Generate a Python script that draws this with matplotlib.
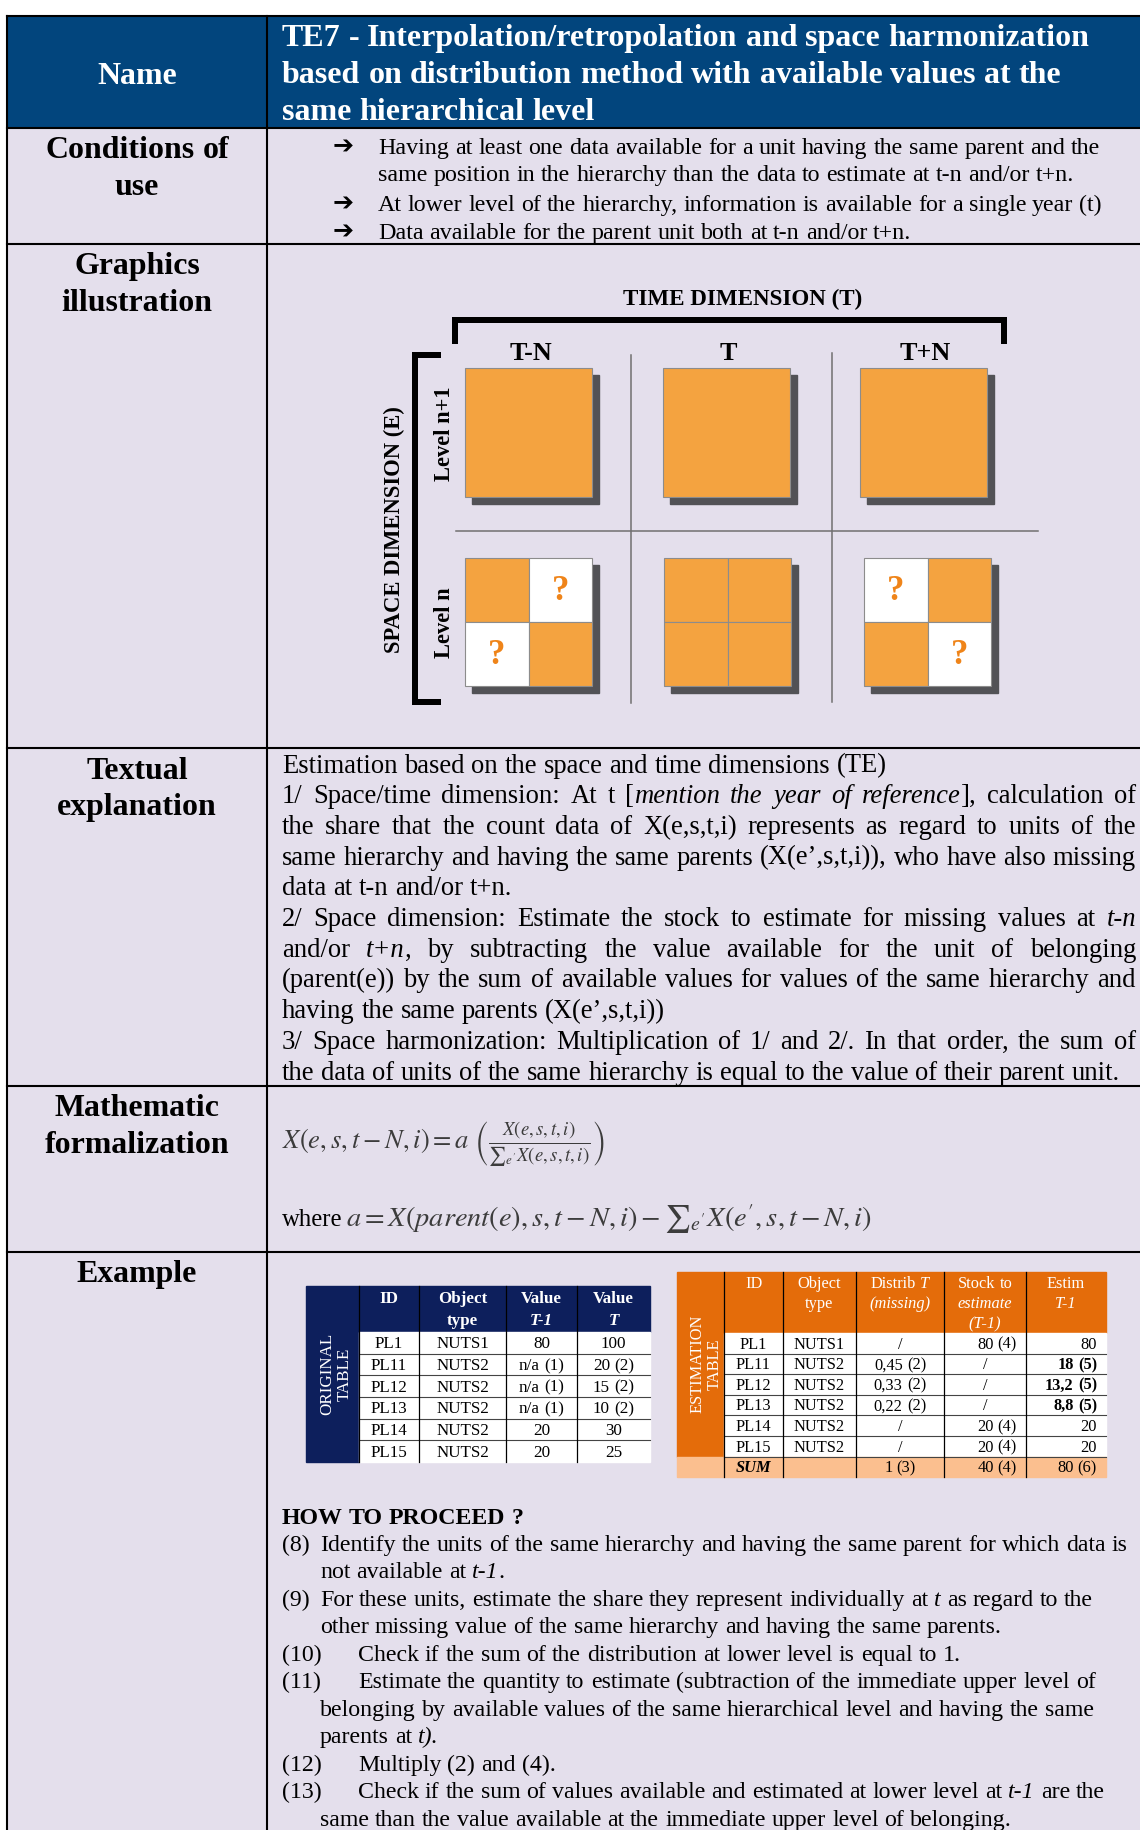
import matplotlib
matplotlib.use('Agg')
import matplotlib.pyplot as plt
from matplotlib.patches import Rectangle

SERIF = 'Liberation Serif'
plt.rcParams['mathtext.fontset'] = 'stix'

NAVY = '#02457d'
LAVENDER = '#e4dfec'
ORANGE_SQ = '#f4a340'
SHADOW = '#525256'
QMARK = '#ef8419'
TAB_NAVY = '#0d1f5c'
TAB_ORANGE = '#e46c0a'
SUM_ORANGE = '#fbbf8f'
MATH_GREY = '#3c3c3c'

# ---------------- content ----------------
row_labels = ['Name', 'Conditions of\nuse', 'Graphics\nillustration',
              'Textual\nexplanation', 'Mathematic\nformalization', 'Example']
title_lines = ['TE7 - Interpolation/retropolation and space harmonization',
               'based on distribution method with available values at the',
               'same hierarchical level']
conditions = [
    ['Having at least one data available for a unit having the same parent and the',
     'same position in the hierarchy than the data to estimate at t-n and/or t+n.'],
    ['At lower level of the hierarchy, information is available for a single year (t)'],
    ['Data available for the parent unit both at t-n and/or t+n.'],
]
# (text, justified)
textual = [
    ('Estimation based on the space and time dimensions (TE)', False),
    ('1/ Space/time dimension: At t [_mention the year of reference_], calculation of', True),
    ('the share that the count data of X(e,s,t,i) represents as regard to units of the', True),
    ('same hierarchy and having the same parents (X(e\u2019,s,t,i)), who have also missing', True),
    ('data at t-n and/or t+n.', False),
    ('2/ Space dimension: Estimate the stock to estimate for missing values at _t-n_', True),
    ('and/or _t+n_, by subtracting the value available for the unit of belonging', True),
    ('(parent(e)) by the sum of available values for values of the same hierarchy and', True),
    ('having the same parents (X(e\u2019,s,t,i))', False),
    ('3/ Space harmonization: Multiplication of 1/ and 2/. In that order, the sum of', True),
    ('the data of units of the same hierarchy is equal to the value of their parent unit.', False),
]
formula_1 = r'$X(e,s,t-N,i)=a\ \left(\frac{X(e,s,t,i)}{{\sum}_{e^{\prime}}X(e,s,t,i)}\right)$'
formula_2 = r'$a=X(parent(e),s,t-N,i)-{\sum}_{e^{\prime}}X(e^{\prime},s,t-N,i)$'

time_labels = ['T-N', 'T', 'T+N']
level_labels = ['Level n+1', 'Level n']
# unknown quadrants (row, col) of the lower level squares, per time column
missing_cells = [[(0, 1), (1, 0)], [], [(0, 0), (1, 1)]]

orig_header = [['ID'], ['Object', 'type'], ['Value', '_T-1_'], ['Value', '_T_']]
orig_id = ['PL1', 'PL11', 'PL12', 'PL13', 'PL14', 'PL15']
orig_type = ['NUTS1', 'NUTS2', 'NUTS2', 'NUTS2', 'NUTS2', 'NUTS2']
orig_val_t1 = ['80', 'n/a (1)', 'n/a (1)', 'n/a (1)', '20', '20']
orig_val_t = ['100', '20 (2)', '15 (2)', '10 (2)', '30', '25']

est_header = [['ID'], ['Object', 'type'], ['Distrib _T_', '_(missing)_'],
              ['Stock to', '_estimate_', '_(T-1)_'], ['Estim', '_T-1_']]
est_id = orig_id
est_type = orig_type
est_distrib = ['/', '0,45 (2)', '0,33 (2)', '0,22 (2)', '/', '/']
est_stock = ['80 (4)', '/', '/', '/', '20 (4)', '20 (4)']
est_estim = ['80', '*18 (5)*', '*13,2 (5)*', '*8,8 (5)*', '20', '20']
est_sum = ['_*SUM*_', '', '1 (3)', '40 (4)', '80 (6)']

steps = [
    ('(8)', ['Identify the units of the same hierarchy and having the same parent for which data is',
             'not available at _t-1_.']),
    ('(9)', ['For these units, estimate the share they represent individually at _t_ as regard to the',
             'other missing value of the same hierarchy and having the same parents.']),
    ('(10)', ['Check if the sum of the distribution at lower level is equal to 1.']),
    ('(11)', ['Estimate the quantity to estimate (subtraction of the immediate upper level of',
              'belonging by available values of the same hierarchical level and having the same',
              'parents at _t)._']),
    ('(12)', ['Multiply (2) and (4).']),
    ('(13)', ['Check if the sum of values available and estimated at lower level at _t-1_ are the',
              'same than the value available at the immediate upper level of belonging.']),
]

# ---------------- figure ----------------
fig = plt.figure(figsize=(11.4, 18.3), dpi=100)
ax = fig.add_axes([0, 0, 1, 1])
ax.set_xlim(0, 1140)
ax.set_ylim(1830, 0)
ax.axis('off')
R = fig.canvas.get_renderer()
PX = 100 / 72


def text_w(t):
    return t.get_window_extent(renderer=R).width


def fit_size(s, target, weight='normal'):
    t = ax.text(0, 0, s.replace('_', '').replace('*', ''), fontsize=20,
                weight=weight, family=SERIF)
    w = text_w(t)
    t.remove()
    return 20 * target / w


def parse(markup):
    words, cur, buf = [], [], ''
    ital = bold = False
    for ch in markup:
        if ch in '_* ':
            if buf:
                cur.append((buf, ital, bold))
                buf = ''
            if ch == '_':
                ital = not ital
            elif ch == '*':
                bold = not bold
            elif cur:
                words.append(cur)
                cur = []
        else:
            buf += ch
    if buf:
        cur.append((buf, ital, bold))
    if cur:
        words.append(cur)
    return words


def space_w(size, bold):
    w = 'bold' if bold else 'normal'
    a = ax.text(0, 0, 'n n', fontsize=size, family=SERIF, weight=w)
    b = ax.text(0, 0, 'nn', fontsize=size, family=SERIF, weight=w)
    d = text_w(a) - text_w(b)
    a.remove()
    b.remove()
    return d


def draw_line(x, yc, markup, size, color='black', ha='left', width=None, bold=False):
    base = yc + 0.32 * size * PX
    words = parse(markup)
    arts, wlens = [], []
    for w in words:
        segs, tot = [], 0
        for txt, it, bd in w:
            t = ax.text(0, base, txt, fontsize=size, color=color, family=SERIF,
                        style='italic' if it else 'normal',
                        weight='bold' if (bd or bold) else 'normal',
                        va='baseline', ha='left', zorder=5)
            wd = text_w(t)
            segs.append((t, wd))
            tot += wd
        arts.append(segs)
        wlens.append(tot)
    gap = space_w(size, bold)
    if width is not None and len(words) > 1:
        gap = (width - sum(wlens)) / (len(words) - 1)
    total = sum(wlens) + gap * (len(words) - 1)
    x0 = x - total / 2 if ha == 'center' else (x - total if ha == 'right' else x)
    for segs in arts:
        for t, wd in segs:
            t.set_x(x0)
            x0 += wd
        x0 += gap
    return total


# ---------------- frame ----------------
ROW_Y = [16, 128, 244, 748, 1086, 1252, 1830]
LEFT, MID, RIGHT = 7, 267, 1140
ax.add_patch(Rectangle((LEFT, ROW_Y[0]), RIGHT - LEFT, ROW_Y[1] - ROW_Y[0], color=NAVY, zorder=0))
ax.add_patch(Rectangle((LEFT, ROW_Y[1]), RIGHT - LEFT, ROW_Y[-1] - ROW_Y[1], color=LAVENDER, zorder=0))
for y in ROW_Y[:-1]:
    ax.plot([LEFT, RIGHT], [y, y], color='black', lw=1.5, zorder=3)
for x in (LEFT, MID):
    ax.plot([x, x], [ROW_Y[0], ROW_Y[-1]], color='black', lw=1.5, zorder=3)

label_size = fit_size('Conditions of', 183, 'bold')
label_y = [[74], [148, 185], [264, 301], [769, 805], [1106, 1143], [1272]]
for lab, ys in zip(row_labels, label_y):
    for line, y in zip(lab.split('\n'), ys):
        draw_line(137, y, line, label_size, ha='center', bold=True,
                  color='white' if lab == 'Name' else 'black')

title_size = fit_size(title_lines[0], 807, 'bold')
for line, y in zip(title_lines, [36, 73, 110]):
    draw_line(282, y, line, title_size, color='white', bold=True)

# conditions of use
cond_size = fit_size(conditions[0][0], 721)
cond_y = iter([146, 173, 203, 231])
for item in conditions:
    for i, line in enumerate(item):
        y = next(cond_y)
        if i == 0:
            ax.text(343, y, '\u2794', fontsize=cond_size * 1.05, family='DejaVu Sans',
                    weight='bold', ha='center', va='center', zorder=5)
        draw_line(378, y, line, cond_size)

# ---------------- graphics illustration ----------------
lw_br = 6 / PX
ax.plot([455, 455, 1004, 1004], [344, 320, 320, 344], color='black', lw=lw_br,
        solid_joinstyle='miter', solid_capstyle='butt', zorder=3)
ax.plot([441, 415, 415, 441], [355, 355, 702, 702], color='black', lw=lw_br,
        solid_joinstyle='miter', solid_capstyle='butt', zorder=3)
for x, y0, y1 in [(631, 355, 703), (832, 353, 702)]:
    ax.plot([x, x], [y0, y1], color='#707070', lw=1.1, zorder=2)
ax.plot([456, 1038], [531, 531], color='#707070', lw=1.1, zorder=2)

ax.text(743, 299, 'TIME DIMENSION (T)', fontsize=fit_size('TIME DIMENSION (T)', 238, 'bold'),
        family=SERIF, weight='bold', ha='center', va='center')
ax.text(394, 530, 'SPACE DIMENSION (E)', fontsize=fit_size('SPACE DIMENSION (E)', 247, 'bold'),
        family=SERIF, weight='bold', ha='center', va='center', rotation=90)
lev_size = fit_size('Level n+1', 95, 'bold')
for lab, y in zip(level_labels, [434, 623]):
    ax.text(444, y, lab, fontsize=lev_size, family=SERIF, weight='bold',
            ha='center', va='center', rotation=90)
tl_size = fit_size('T+N', 51, 'bold')
top_x = [465, 663, 860]
bot_x = [465, 664, 864]
SQ = 127
for j, lab in enumerate(time_labels):
    ax.text(top_x[j] + SQ / 2 + 2, 353, lab, fontsize=tl_size, family=SERIF, weight='bold',
            ha='center', va='center')
    # upper level: one block
    ax.add_patch(Rectangle((top_x[j] + 7, 375), SQ, 129, color=SHADOW, zorder=1))
    ax.add_patch(Rectangle((top_x[j], 368), SQ, 129, facecolor=ORANGE_SQ,
                           edgecolor='#8c8c8c', lw=0.8, zorder=2))
    # lower level: four units
    ax.add_patch(Rectangle((bot_x[j] + 7, 565), SQ, 128, color=SHADOW, zorder=1))
    half = SQ / 2
    for r in range(2):
        for c in range(2):
            miss = (r, c) in missing_cells[j]
            cx0, cy0 = bot_x[j] + c * half, 558 + r * 64
            ax.add_patch(Rectangle((cx0, cy0), half, 64,
                                   facecolor='white' if miss else ORANGE_SQ,
                                   edgecolor='#8c8c8c', lw=0.8, zorder=2))
            if miss:
                ax.text(cx0 + half / 2, cy0 + 33, '?', fontsize=25, family=SERIF,
                        weight='bold', color=QMARK, ha='center', va='center', zorder=5)

# ---------------- textual explanation ----------------
txt_size = fit_size(textual[-1][0], 838)
for i, (line, just) in enumerate(textual):
    draw_line(282, 764 + i * 30.7, line, txt_size, width=854 if just else None)

# ---------------- math ----------------
def math_size(s, target):
    t = ax.text(0, 0, s, fontsize=20)
    w = text_w(t)
    t.remove()
    return 20 * target / w


m1 = math_size(formula_1, 322)
m2 = math_size(formula_2, 526)
ax.text(282, 1141 + 0.32 * m1 * PX, formula_1, fontsize=m1, color=MATH_GREY,
        va='baseline', ha='left')
ww = draw_line(282, 1218, 'where', txt_size * 0.93)
ax.text(282 + ww + 3, 1218 + 0.32 * m2 * PX, formula_2, fontsize=m2, color=MATH_GREY,
        va='baseline', ha='left')

# ---------------- example tables ----------------
def draw_table(xs, y_top, y_head, row_h, header, cols, band_color, band_label, size,
               head_bold, aligns, sum_row=None, head_line_y=None, band_xc=None):
    n = len(cols[0])
    y_body_end = y_head + n * row_h
    y_end = y_body_end + (row_h if sum_row else 0)
    ax.add_patch(Rectangle((xs[0], y_top), xs[1] - xs[0], y_body_end - y_top,
                           color=band_color, zorder=1))
    ax.add_patch(Rectangle((xs[1], y_top), xs[-1] - xs[1], y_head - y_top,
                           color=band_color, zorder=1))
    ax.add_patch(Rectangle((xs[1], y_head), xs[-1] - xs[1], n * row_h,
                           color='white', zorder=1))
    if sum_row:
        ax.add_patch(Rectangle((xs[0], y_body_end), xs[-1] - xs[0], row_h,
                               color=SUM_ORANGE, zorder=1))
    for i in range(1, n + (1 if sum_row else 0)):
        ax.plot([xs[1], xs[-1]], [y_head + i * row_h] * 2, color='#444444', lw=0.8, zorder=3)
    for x in xs[1:-1]:
        ax.plot([x, x], [y_top, y_end], color='black', lw=0.9, zorder=3)
    ax.text(band_xc, (y_top + y_body_end) / 2, band_label, fontsize=size, family=SERIF,
            color='white', rotation=90, ha='center', va='center', linespacing=1.15, zorder=5)
    for k, lines in enumerate(header):
        xc = (xs[k + 1] + xs[k + 2]) / 2
        for line, y in zip(lines, head_line_y):
            draw_line(xc, y, line, size, color='white', ha='center', bold=head_bold)
    rows = [list(r) for r in zip(*cols)]
    if sum_row:
        rows.append(sum_row)
    for i, row in enumerate(rows):
        yc = y_head + (i + 0.5) * row_h
        for k, val in enumerate(row):
            if not val:
                continue
            a = aligns[k] if val != '/' else 'center'
            if a == 'center':
                xp = (xs[k + 1] + xs[k + 2]) / 2
            else:
                xp = xs[k + 2] - 9
            draw_line(xp, yc, val, size, ha=a)


draw_table([306, 359, 419, 506, 577, 650], 1286, 1332, 21.67, orig_header,
           [orig_id, orig_type, orig_val_t1, orig_val_t], TAB_NAVY, 'ORIGINAL\nTABLE',
           fit_size('NUTS1', 53), True, ['center'] * 4, head_line_y=[1298, 1320],
           band_xc=336)
draw_table([677, 724, 783, 856, 944, 1026, 1106], 1272, 1333, 20.6, est_header,
           [est_id, est_type, est_distrib, est_stock, est_estim], TAB_ORANGE,
           'ESTIMATION\nTABLE', fit_size('NUTS1', 51), False,
           ['center', 'center', 'center', 'right', 'right'], sum_row=est_sum,
           head_line_y=[1283, 1303, 1323], band_xc=706)

# ---------------- how to proceed ----------------
step_size = fit_size(steps[-1][1][1], 695)
draw_line(282, 1516, 'HOW TO PROCEED ?', step_size, bold=True)
y = 1543
for num, lines in steps:
    draw_line(282, y, num, step_size)
    for i, line in enumerate(lines):
        x = (320 if len(num) == 3 else 358) if i == 0 else 320
        draw_line(x, y, line, step_size)
        y += 27.5

fig.savefig('out.png', dpi=100)
